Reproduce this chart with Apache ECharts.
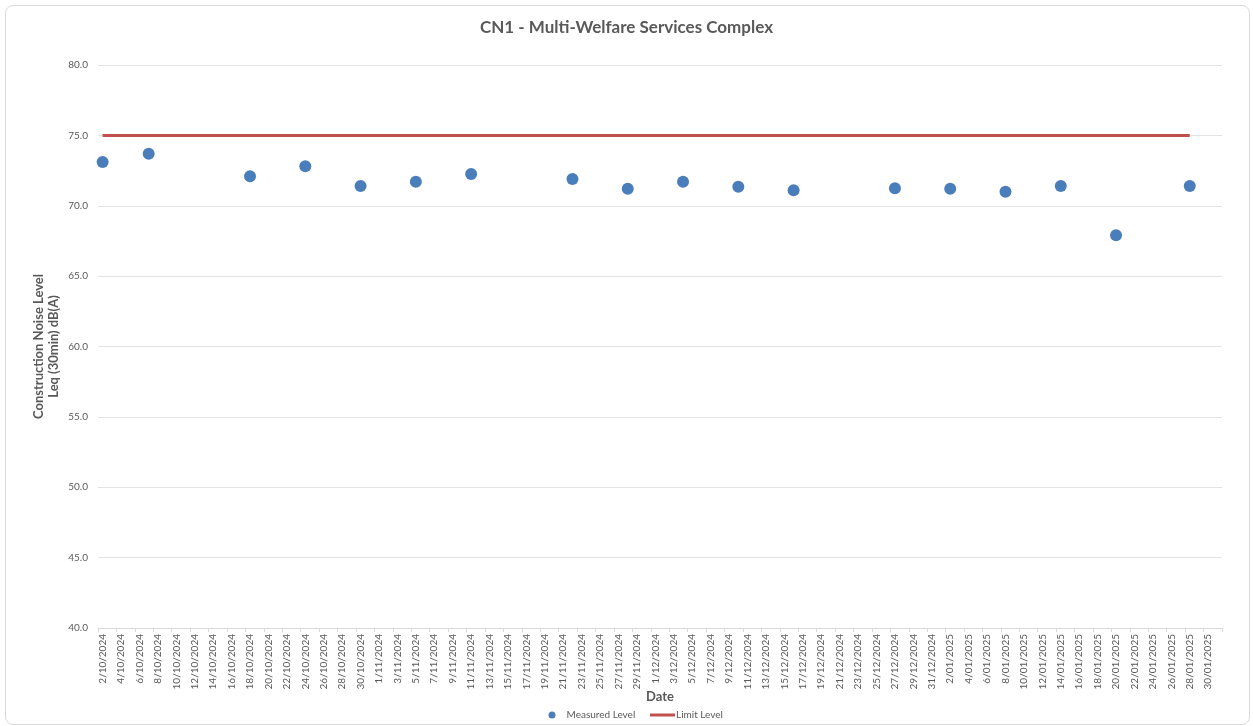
<!DOCTYPE html>
<html>
<head>
<meta charset="utf-8">
<script src="https://cdn.jsdelivr.net/npm/echarts@6/dist/echarts.min.js"></script>
<style>
html,body{margin:0;padding:0;background:#fff;}
#wrap{position:relative;width:1253px;height:726px;}
#chart{position:absolute;left:0;top:0;width:1253px;height:726px;}
#frame{position:absolute;left:5px;top:5px;width:1243px;height:718px;border:1px solid #d9d9d9;border-radius:8px;pointer-events:none;}
</style>
</head>
<body>
<div id="wrap"><div id="chart"></div><div id="frame"></div></div>
<script>
// ---- data ----
const axisStart = [2024, 10, 2];   // first day on the date axis (y, m, d)
const axisEnd = [2025, 1, 31];     // last day on the date axis
const measuredDates = ['2/10/2024','7/10/2024','18/10/2024','24/10/2024','30/10/2024','5/11/2024','11/11/2024','22/11/2024','28/11/2024','4/12/2024','10/12/2024','16/12/2024','27/12/2024','2/01/2025','8/01/2025','14/01/2025','20/01/2025','28/01/2025'];
const measuredValues = [73.1, 73.7, 72.1, 72.8, 71.4, 71.7, 72.25, 71.9, 71.2, 71.7, 71.35, 71.1, 71.25, 71.2, 71.0, 71.4, 67.9, 71.4];
const limitDates = ['2/10/2024','28/01/2025'];
const limitValues = [75, 75];
const yTicks = [40, 45, 50, 55, 60, 65, 70, 75, 80];

// ---- build date categories (tick labels) ----
function fmt(d){
  const m = d.getUTCMonth()+1;
  return d.getUTCDate() + '/' + (m<10?'0'+m:m) + '/' + d.getUTCFullYear();
}
const categories = [];
for (let t = Date.UTC(axisStart[0], axisStart[1]-1, axisStart[2]); t <= Date.UTC(axisEnd[0], axisEnd[1]-1, axisEnd[2]); t += 86400000) {
  categories.push(fmt(new Date(t)));
}

const txt = '#595959';
const font = 'Lato, "Open Sans", sans-serif';
const chart = echarts.init(document.getElementById('chart'));
chart.setOption({
  backgroundColor: '#fff',
  textStyle: {fontFamily: font},
  title: {
    text: 'CN1 - Multi-Welfare Services Complex',
    left: 'center', top: 14,
    textStyle: {fontFamily: font, fontSize: 17, fontWeight: 'bold', color: txt}
  },
  legend: [
    {data: [{name: 'Measured Level', icon: 'circle'}], left: 548.5, top: 710, padding: 0, itemWidth: 7, itemHeight: 7, itemGap: 10,
     textStyle: {fontFamily: font, fontSize: 10, color: txt, padding: [0,0,0,6]}},
    {data: [{name: 'Limit Level', icon: 'rect'}], left: 650, top: 710, padding: 0, itemWidth: 25, itemHeight: 3, itemGap: 0,
     textStyle: {fontFamily: font, fontSize: 10, color: txt, padding: [0,0,0,-4]}}
  ],
  grid: {left: 98, right: 31, top: 65, bottom: 98, containLabel: false},
  xAxis: {
    type: 'category',
    data: categories,
    boundaryGap: true,
    name: 'Date',
    nameLocation: 'middle',
    nameGap: 62,
    nameMoveOverlap: false,
    nameTextStyle: {fontFamily: font, fontSize: 13, fontWeight: 'bold', color: txt},
    axisLine: {lineStyle: {color: '#d9d9d9'}},
    axisTick: {show: true, interval: 1, length: 4, lineStyle: {color: '#d9d9d9'}},
    axisLabel: {interval: 1, rotate: 90, fontSize: 10, color: txt, fontFamily: font, margin: 6},
    splitLine: {show: false}
  },
  yAxis: {
    type: 'value',
    min: yTicks[0], max: yTicks[yTicks.length-1], interval: 5,
    name: 'Construction Noise Level\nLeq (30min) dB(A)',
    nameLocation: 'middle',
    nameGap: 37,
    nameMoveOverlap: false,
    nameTextStyle: {fontFamily: font, fontSize: 13, fontWeight: 'bold', color: txt, lineHeight: 15},
    axisLine: {show: false},
    axisTick: {show: false},
    axisLabel: {fontSize: 10, color: txt, fontFamily: font, margin: 10, formatter: v => v.toFixed(1)},
    splitLine: {lineStyle: {color: '#e3e3e3'}}
  },
  series: [
    {
      name: 'Limit Level',
      type: 'line',
      data: limitDates.map((d, i) => [d, limitValues[i]]),
      showSymbol: false,
      symbol: 'none',
      lineStyle: {color: '#c0504d', width: 3},
      itemStyle: {color: '#c0504d'},
      z: 2
    },
    {
      name: 'Measured Level',
      type: 'scatter',
      data: measuredDates.map((d, i) => [d, measuredValues[i]]),
      symbolSize: 12,
      itemStyle: {color: '#4a7ebb', opacity: 1},
      z: 3
    }
  ]
});
</script>
</body>
</html>
